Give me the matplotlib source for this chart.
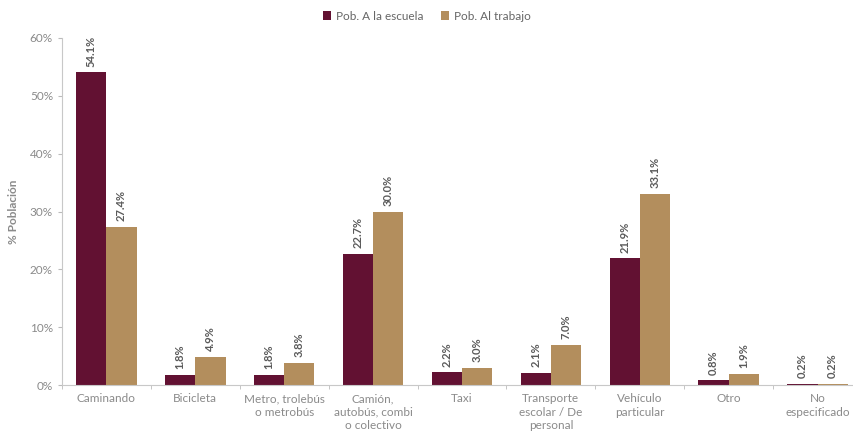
import matplotlib.pyplot as plt
import numpy as np

# datos
categorias = ["Caminando", "Bicicleta", "Metro, trolebús\no metrobús",
              "Camión,\nautobús, combi\no colectivo", "Taxi",
              "Transporte\nescolar / De\npersonal", "Vehículo\nparticular",
              "Otro", "No\nespecificado"]
escuela = [54.1, 1.8, 1.8, 22.7, 2.2, 2.1, 21.9, 0.8, 0.2]
trabajo = [27.4, 4.9, 3.8, 30.0, 3.0, 7.0, 33.1, 1.9, 0.2]
series = ["Pob. A la escuela", "Pob. Al trabajo"]

COLOR_A = "#621132"
COLOR_B = "#B38E5D"
GRIS = "#8a8a8a"

plt.rcParams["font.family"] = ["Lato", "DejaVu Sans"]

fig = plt.figure(figsize=(8.54, 4.33), dpi=100)
ax = fig.add_axes([62 / 854, 48 / 433, 800 / 854, 347 / 433])

x = np.arange(len(categorias))
w = 0.34
barsA = ax.bar(x - w / 2, escuela, w, color=COLOR_A, label=series[0])
barsB = ax.bar(x + w / 2, trabajo, w, color=COLOR_B, label=series[1])

# etiquetas de valor
for bars in (barsA, barsB):
    for b in bars:
        ax.annotate(f"{b.get_height():.1f}%",
                    (b.get_x() + b.get_width() / 2, b.get_height()),
                    xytext=(0, 4), textcoords="offset points",
                    rotation=90, ha="center", va="bottom",
                    fontsize=8, fontweight="bold", color="#5a5a5a")

ax.set_xlim(-0.5, len(categorias) - 0.5)
ax.set_ylim(0, 60)
ax.set_yticks(np.arange(0, 61, 10))
ax.set_yticklabels([f"{v}%" for v in range(0, 61, 10)])
ax.set_xticks(x)
ax.set_xticklabels(categorias, fontsize=8.5, color=GRIS, linespacing=1.25)
ax.set_xticks(np.arange(-0.5, len(categorias), 1), minor=True)
ax.tick_params(axis="x", which="major", length=0, pad=6)
ax.tick_params(axis="x", which="minor", length=3, color="#bbbbbb", direction="out")
ax.tick_params(axis="y", labelsize=8.5, labelcolor=GRIS, length=3, color="#bbbbbb")

ax.set_ylabel("% Población", fontsize=8.5, fontweight="bold", color=GRIS, labelpad=8)

for s in ("top", "right"):
    ax.spines[s].set_visible(False)
for s in ("left", "bottom"):
    ax.spines[s].set_color("#c8c8c8")

fig.legend(loc="upper center", bbox_to_anchor=(0.5, 1.0), ncol=2, frameon=False,
           fontsize=8.5, labelcolor="#666666", handlelength=0.7, handleheight=0.7,
           columnspacing=1.5, handletextpad=0.4)

fig.savefig("out.png", dpi=100)
